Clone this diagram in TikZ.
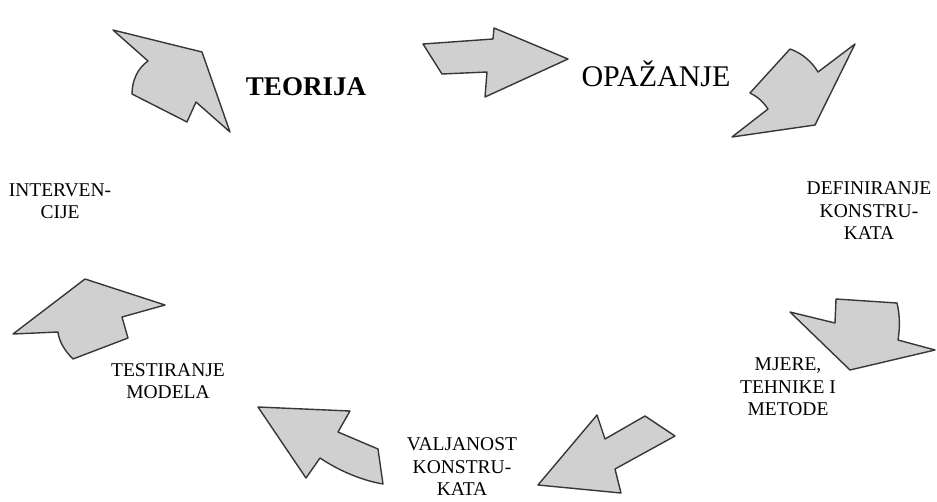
\documentclass[tikz,border=0pt]{standalone}
\usepackage{fontspec}
\setmainfont{Liberation Serif}
\definecolor{arrfill}{RGB}{208,208,208}
\definecolor{arrdraw}{RGB}{55,55,55}
\tikzset{
  bigarrow/.style={fill=arrfill,draw=arrdraw,line width=1.4pt,line join=round},
  lab/.style={align=center,font=\fontsize{19.5}{22.5}\selectfont,inner sep=0pt}
}
\begin{document}
\begin{tikzpicture}[x=1pt,y=-1pt]
\useasboundingbox (0,0) rectangle (937,501);
% arrows
\draw[bigarrow] (113,30) -- (202,52) -- (230,132) -- (196,102) -- (187,122) -- (132,94) .. controls (132,80) and (138,68) .. (148,61) -- cycle;
\draw[bigarrow] (423,44) -- (493,39) -- (494,28) -- (568,59) -- (485,97) -- (487,72) -- (442,74) -- cycle;
\draw[bigarrow] (732,137) -- (768,109) .. controls (762,100) and (756,96) .. (750,93) -- (790,49) .. controls (802,53) and (812,62) .. (818,72) -- (855,44) -- (815,125) -- cycle;
\draw[bigarrow] (790,312) -- (835,323) -- (836,299) -- (897,303) .. controls (900,315) and (900,328) .. (898,340) -- (935,350) -- (850,370) -- cycle;
\draw[bigarrow] (538,485) -- (597,415) -- (605,439) -- (645,416) -- (675,436) -- (615,469) -- (621,493) -- cycle;
\draw[bigarrow] (258,407) -- (350,411) -- (338,432) -- (378,449) -- (383,484) .. controls (360,480) and (338,470) .. (320,458) -- (306,478) -- cycle;
\draw[bigarrow] (13,334) -- (85,279) -- (165,305) -- (122,317) -- (128,338) -- (73,359) .. controls (64,350) and (59,341) .. (58,332) -- cycle;
% labels
\node[inner sep=0pt,font=\fontsize{27}{30}\selectfont\bfseries] (teorija) at (306,87) {TEORIJA};
\node[inner sep=0pt,font=\fontsize{30}{32}\selectfont] (opazanje) at (656,74) {OPAŽANJE};
\node[lab] (def) at (869,211) {DEFINIRANJE\\KONSTRU-\\KATA};
\node[lab] (mjere) at (788,387) {MJERE,\\TEHNIKE I\\METODE};
\node[lab] (valj) at (462,467) {VALJANOST\\KONSTRU-\\KATA};
\node[lab] (test) at (168,381) {TESTIRANJE\\MODELA};
\node[lab] (interv) at (60,201) {INTERVEN-\\CIJE};
\end{tikzpicture}
\end{document}
